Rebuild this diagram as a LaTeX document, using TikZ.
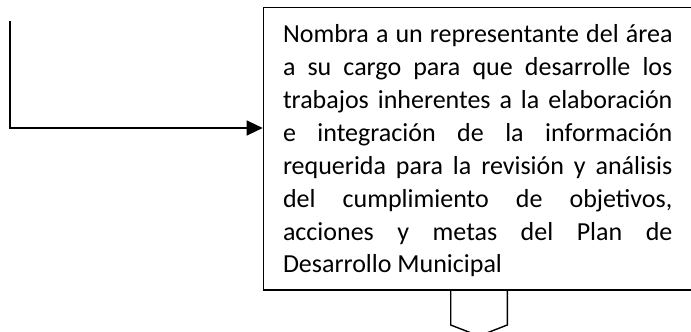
\documentclass[tikz,border=0pt]{standalone}
\usepackage{fontspec}
\setmainfont{Carlito}
\usetikzlibrary{arrows.meta, positioning}
\tikzstyle{boxNode} = [rectangle, draw=black, line width=1.4pt, anchor=north west, minimum height=282.3pt, inner xsep=19.6pt, font=\fontsize{26}{32.86}\selectfont]
\tikzstyle{arrow} = [line width=1.4pt, -{Triangle[length=16pt,width=15pt]}, draw=black]
\tikzstyle{offPage} = [line width=1.4pt, draw=black]

\begin{document}
\begin{tikzpicture}[x=1pt, y=-1pt]
        \clip (0,0) rectangle (691,332);
        \node (tarea) [boxNode] at (262.7,7) {\parbox{389.4pt}{\vspace*{4.4pt}%
            Nombra a un representante del área\linebreak
            a su cargo para que desarrolle los\linebreak
            trabajos inherentes a la elaboración\linebreak
            e integración de la información\linebreak
            requerida para la revisión y análisis\linebreak
            del cumplimiento de objetivos,\linebreak
            acciones y metas del Plan de\linebreak
            Desarrollo Municipal}\hspace{30pt}};
        \coordinate (inicio) at (10,21);
        \coordinate (entrada) at ([yshift=-121pt]tarea.north west);

        \draw [arrow] (inicio) |- (entrada);

        % conector fuera de pagina
        \draw [offPage] (450.7,289.3) -- (450.7,325) -- (479,336) -- (507.3,325) -- (507.3,289.3);
    \end{tikzpicture}
\end{document}
